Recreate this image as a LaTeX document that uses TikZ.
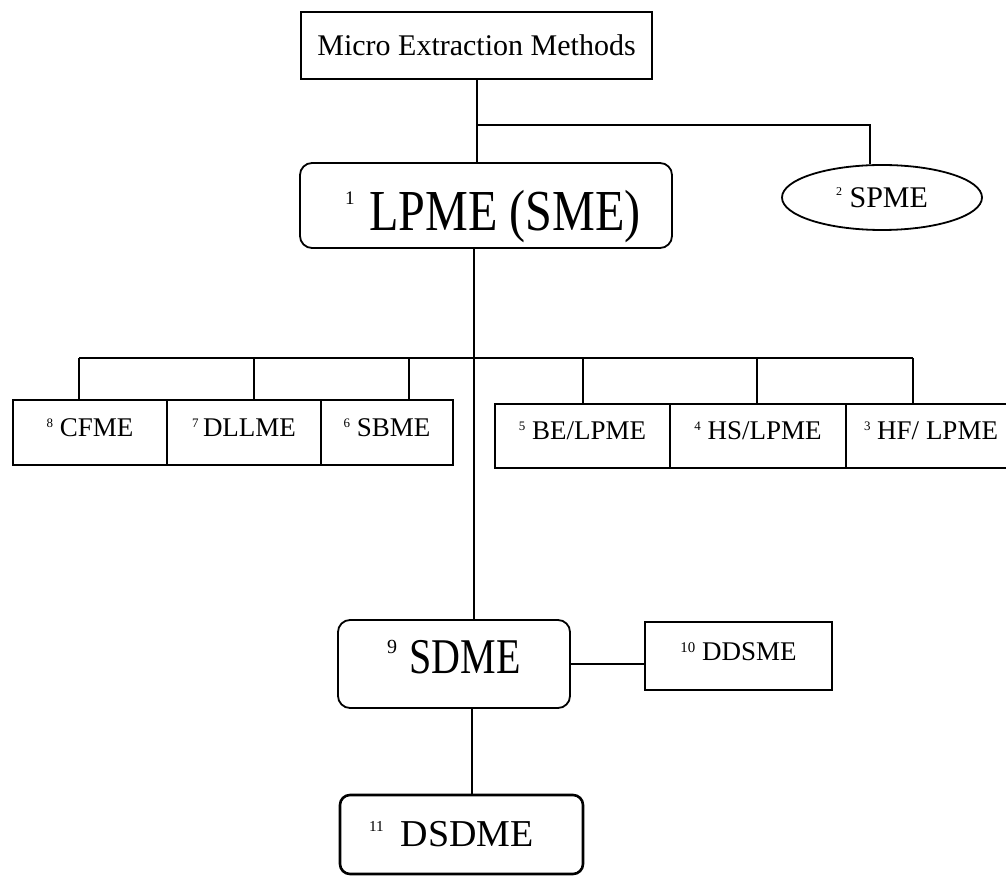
\documentclass[tikz,border=0pt]{standalone}
\usepackage{fontspec}
\setmainfont{Liberation Serif}
\usetikzlibrary{shapes.geometric}
\newcommand\snum[2]{\raisebox{\dimexpr\fontcharht\font`E-#1\fontcharht\font`E\relax}{\scalebox{#1}{#2}}}
\newcommand\fs[1]{\fontsize{#1}{#1}\selectfont}
\begin{document}
\begin{tikzpicture}[x=0.5pt,y=-0.5pt, line width=0.9pt,
  box/.style={draw, rectangle, inner sep=0pt, align=center, line width=0.9pt},
  rbox/.style={box, rounded corners=6pt},
  rowbox/.style={box, minimum height=32.5pt},
  oval/.style={draw, ellipse, inner sep=0pt, line width=0.9pt},
  conn/.style={draw, line width=0.9pt}]
\useasboundingbox (0,0) rectangle (1006,876);
\fill[white] (0,0) rectangle (1006,876);
\clip (0,0) rectangle (1006,876);

% top level
\node[box, minimum width=175.5pt, minimum height=33.5pt] (top) at (476.5,45.5) {\fs{15}Micro Extraction Methods};
\node[rbox, minimum width=186pt, minimum height=42.5pt, text height=26pt, text depth=1.3pt] (lpme) at (486,205.5) {\fs{29}\hspace*{7pt}\snum{0.33}{1} \scalebox{0.83}[1]{LPME (SME)}};
\node[oval, minimum width=100pt, minimum height=32.5pt] (spme) at (882,197.5) {\fs{15}\snum{0.4}{2} SPME};

% row boxes
\node[rowbox, minimum width=77pt] (c8) at (90,432.5) {\raisebox{5pt}{\fs{13.5}\snum{0.48}{8} CFME}};
\node[rowbox, minimum width=77pt] (c7) at (244,432.5) {\raisebox{5pt}{\fs{13.5}\snum{0.48}{7}\,DLLME}};
\node[rowbox, minimum width=66pt] (c6) at (387,432.5) {\raisebox{5pt}{\fs{13.5}\snum{0.48}{6} SBME}};
\node[box, minimum height=32pt, minimum width=87.5pt] (c5) at (582.5,436) {\raisebox{5pt}{\fs{13.5}\snum{0.48}{5} BE/LPME}};
\node[box, minimum height=32pt, minimum width=88pt] (c4) at (758,436) {\raisebox{5pt}{\fs{13.5}\snum{0.48}{4} HS/LPME}};
\node[box, minimum height=32pt, minimum width=85pt] (c3) at (931,436) {\raisebox{5pt}{\fs{13.5}\snum{0.48}{3} HF/ LPME}};

% lower part
\node[rbox, minimum width=116pt, minimum height=44pt] (sdme) at (454,664) {\raisebox{7pt}{\fs{25}\snum{0.4}{9} \scalebox{0.8}[1]{SDME}}};
\node[box, minimum width=93.5pt, minimum height=34pt] (ddsme) at (738.5,656) {\raisebox{4pt}{\fs{13.5}\snum{0.55}{10} DDSME}};
\node[rbox, minimum width=121.5pt, minimum height=39.5pt, line width=1.3pt, rounded corners=5pt] (dsdme) at (461.5,834.5) {\fs{19}\snum{0.4}{11}\hspace{0.45em}DSDME\hspace*{10pt}};

% connector coordinates
\coordinate (j1) at (477,125);
\coordinate (j2) at (870,125);
\coordinate (m) at (474,0);
\coordinate (bl) at (79,358);
\coordinate (b7) at (254,358);
\coordinate (b6) at (409,358);
\coordinate (b5) at (583,358);
\coordinate (b4) at (757,358);
\coordinate (br) at (913,358);
\coordinate (m2) at (472,0);

% connectors
\draw[conn] (top.south -| j1) -- (lpme.north -| j1);
\draw[conn] (j1) -- (j2) -- (j2 |- spme.north);
\draw[conn] (lpme.south -| m) -- (sdme.north -| m);
\draw[conn] (bl) -- (br);
\draw[conn] (bl) -- (bl |- c8.north);
\draw[conn] (b7) -- (b7 |- c7.north);
\draw[conn] (b6) -- (b6 |- c6.north);
\draw[conn] (b5) -- (b5 |- c5.north);
\draw[conn] (b4) -- (b4 |- c4.north);
\draw[conn] (br) -- (br |- c3.north);
\draw[conn] (sdme.east) -- (sdme.east -| ddsme.west);
\draw[conn] (sdme.south -| m2) -- (dsdme.north -| m2);
\end{tikzpicture}
\end{document}
